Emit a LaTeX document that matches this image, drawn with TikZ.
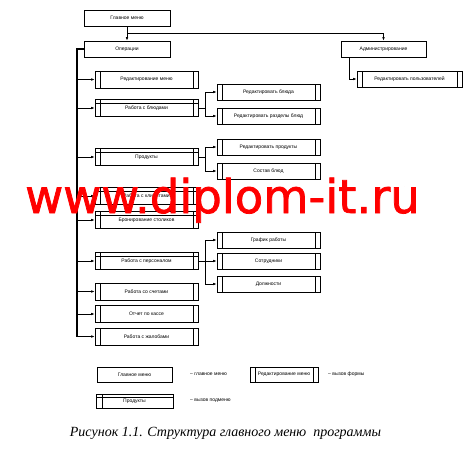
\documentclass[tikz,border=0pt]{standalone}
\usepackage{fontspec}
\setmainfont{Liberation Sans}
\newfontfamily\capfont{Liberation Serif}
\newfontfamily\wmfont[FakeBold=1.6]{DejaVu Sans}
\usetikzlibrary{arrows.meta}

\tikzset{
  box/.style={draw, line width=0.6pt, minimum height=17pt, inner sep=0pt, font=\fontsize{5}{6}\selectfont},
  menu/.style={box, minimum width=86pt, minimum height=16pt},
  form/.style={box, minimum width=103pt, path picture={
      \draw ([xshift=5pt]path picture bounding box.south west) -- ([xshift=5pt]path picture bounding box.north west);
      \draw ([xshift=-5pt]path picture bounding box.south east) -- ([xshift=-5pt]path picture bounding box.north east);}},
  submenu/.style={box, minimum width=103pt, path picture={
      \draw ([yshift=-4pt]path picture bounding box.north west) -- ([yshift=-4pt]path picture bounding box.north east);
      \draw ([xshift=5pt]path picture bounding box.south west) -- ([xshift=5pt]path picture bounding box.north west);
      \draw ([xshift=-5pt]path picture bounding box.south east) -- ([xshift=-5pt]path picture bounding box.north east);}},
  link/.style={line width=0.6pt},
  arr/.style={link, -{Latex[length=3.5pt,width=2.5pt]}},
  legtext/.style={anchor=west, inner sep=0pt, font=\fontsize{5}{6}\selectfont},
}

\begin{document}
\begin{tikzpicture}[x=1pt,y=-1pt]
    \useasboundingbox (0,0) rectangle (465,460);

    % top level
    \node[menu] (gm) at (127,18) {Главное меню};
    \node[menu] (op) at (127,49) {Операции};
    \node[menu, minimum width=85pt] (adm) at (383.5,49) {Администрирование};
    \node[form, minimum width=105pt, minimum height=16pt] (usr) at (409.5,79) {Редактировать пользователей};

    \draw[arr] (gm.south) -- (op.north);
    \coordinate (t) at (127,33);
    \draw[arr] (t) -| (adm.north);
    \draw[arr] ([xshift=-34.5pt]adm.south) |- (usr.west);

    % operations
    \node[form] (m1) at (146.5,79.5) {Редактирование меню};
    \node[submenu] (m2) at (146.5,108) {Работа с блюдами};
    \node[submenu] (m3) at (146.5,157) {Продукты};
    \node[submenu] (m4) at (146.5,196) {Работа с клиентами};
    \node[submenu] (m5) at (146.5,220) {Бронирование столиков};
    \node[submenu] (m6) at (146.5,261) {Работа с персоналом};
    \node[form] (m7) at (146.5,291.5) {Работа со счетами};
    \node[form] (m8) at (146.5,314) {Отчет по кассе};
    \node[form] (m9) at (146.5,336.5) {Работа с жалобами};

    \coordinate (sp) at (77,49);
    \draw[line width=1.1pt] (op.west) -- (sp) -- (sp |- m9.west);
    \foreach \m in {m1,m2,m3,m4,m5,m6,m7,m8,m9}
        \draw[arr] (sp |- \m.west) -- (\m.west);

    % second level
    \node[form, minimum height=16pt] (r1) at (268.5,92) {Редактировать блюда};
    \node[form, minimum height=16pt] (r2) at (268.5,116) {Редактировать разделы блюд};
    \node[form, minimum height=16pt] (r3) at (268.5,147) {Редактировать продукты};
    \node[form, minimum height=16pt] (r4) at (268.5,171) {Состав блюд};
    \node[form, minimum height=16pt] (r5) at (268.5,240) {График работы};
    \node[form, minimum height=16pt] (r6) at (268.5,261) {Сотрудники};
    \node[form, minimum height=16pt] (r7) at (268.5,284) {Должности};

    \coordinate (j2) at (205,108);
    \coordinate (j3) at (205,157);
    \coordinate (j6) at (205,261);
    \draw[link] (m2.east) -- (j2);
    \draw[arr] (j2) |- (r1.west);
    \draw[arr] (j2) |- (r2.west);
    \draw[link] (m3.east) -- (j3);
    \draw[arr] (j3) |- (r3.west);
    \draw[arr] (j3) |- (r4.west);
    \draw[link] (m6.east) -- (j6);
    \draw[arr] (j6) |- (r5.west);
    \draw[arr] (j6) -- (r6.west);
    \draw[arr] (j6) |- (r7.west);

    % legend
    \node[menu, minimum width=75pt, minimum height=15pt] (lg1) at (134.5,374.5) {Главное меню};
    \node[form, minimum width=68pt, minimum height=15pt] (lg2) at (284,374.5) {Редактирование меню};
    \node[box, minimum width=77pt, minimum height=14pt, path picture={
        \draw ([yshift=-3pt]path picture bounding box.north west) -- ([yshift=-3pt]path picture bounding box.north east);
        \draw ([xshift=6pt]path picture bounding box.south west) -- ([xshift=6pt]path picture bounding box.north west);}]
        (lg3) at (134.5,401) {Продукты};
    \node[legtext] (lt1) at (190,374.5) {-- главное меню};
    \node[legtext] (lt2) at (328,374.5) {-- вызов формы};
    \node[legtext] (lt3) at (190,401) {-- вызов подменю};

    % watermark
    \node[text=red, inner sep=0pt, anchor=base west, font=\wmfont\fontsize{46.5}{46.5}\selectfont] (wm) at (25,213) {www.diplom-it.ru};

    \node[font=\capfont\itshape\fontsize{14}{16}\selectfont] (cap) at (225.5,433) {Рисунок 1.1. Структура главного меню~ программы};
\end{tikzpicture}
\end{document}
